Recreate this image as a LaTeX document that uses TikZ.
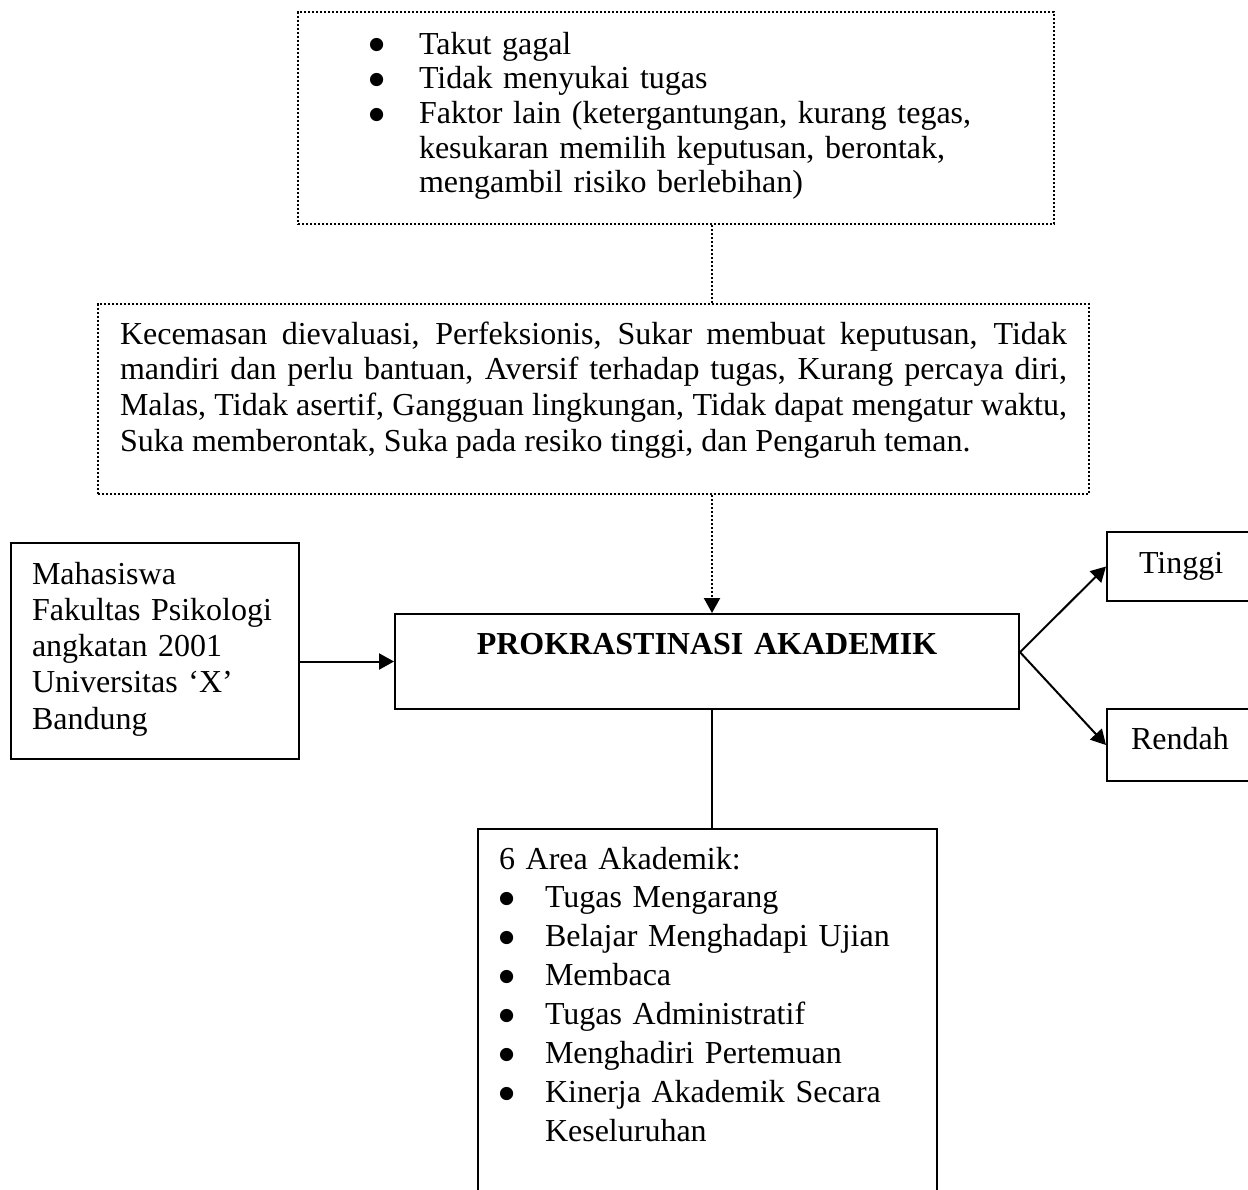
\documentclass[tikz,border=0pt]{standalone}
\usepackage{fontspec}
\setmainfont{Liberation Serif}
\newfontfamily\simbol{DejaVu Sans}
\usetikzlibrary{arrows.meta}

\newcommand{\butir}[1]{\makebox[#1][l]{\raisebox{1.6bp}{\fontsize{6.5bp}{6.5bp}\simbol ●}}}

\tikzset{
  kotak/.style={draw, line width=0.75bp, anchor=north west, inner ysep=0pt, align=left,
    font=\fontsize{12bp}{13.6bp}\selectfont},
  titik/.style={kotak, dash pattern=on 0.75bp off 0.75bp},
  panah/.style={-{Triangle[length=5.6bp,width=6bp]}, line width=0.75bp}
}

\begin{document}
\begin{tikzpicture}[x=0.375bp, y=-0.375bp]
\useasboundingbox (0,0) rectangle (1248,1190);
\clip (0,0) rectangle (1248,1190);

\node[titik, inner xsep=26.625bp, text width=230.25bp, text height=15.75bp, text depth=63.75bp,
  font=\fontsize{12bp}{13bp}\selectfont] (faktor) at (297,11)
  {\butir{18.75bp}Takut gagal\\
   \butir{18.75bp}Tidak menyukai tugas\\
   \butir{18.75bp}Faktor lain (ketergantungan, kurang tegas,\\
   \hspace*{18.75bp}kesukaran memilih keputusan, berontak,\\
   \hspace*{18.75bp}mengambil risiko berlebihan)};
\node[titik, align=justify, inner xsep=8.25bp, text width=355.125bp, text height=15bp, text depth=56.25bp,
  font=\fontsize{12bp}{13.4bp}\selectfont] (ciri) at (97,303)
  {Kecemasan dievaluasi, Perfeksionis, Sukar membuat keputusan, Tidak\linebreak
   mandiri dan perlu bantuan, Aversif terhadap tugas, Kurang percaya diri,\linebreak
   Malas, Tidak asertif, Gangguan lingkungan, Tidak dapat mengatur waktu,\linebreak
   Suka memberontak, Suka pada resiko tinggi, dan Pengaruh teman.};
\node[kotak, inner xsep=7.875bp, text width=92.25bp, text height=15.375bp, text depth=65.625bp] (subjek) at (10,542)
  {Mahasiswa\\Fakultas Psikologi\\angkatan 2001\\Universitas ‘X’\\Bandung};
\node[kotak, align=center, inner xsep=3.75bp, text width=226.5bp, text height=15bp, text depth=20.625bp] (prok) at (394,613)
  {\textbf{PROKRASTINASI AKADEMIK}};
\node[kotak, inner xsep=12bp, text width=34.5bp, text height=15.375bp, text depth=10.5bp] (tinggi) at (1106,531) {Tinggi};
\node[kotak, inner xsep=9bp, text width=40.5bp, text height=15bp, text depth=12bp] (rendah) at (1106,708) {Rendah};
\node[kotak, inner xsep=7.875bp, text width=156.375bp, text height=15bp, text depth=128.25bp,
  font=\fontsize{12bp}{14.6bp}\selectfont] (area) at (477,828)
  {6 Area Akademik:\\
   \butir{17.25bp}Tugas Mengarang\\
   \butir{17.25bp}Belajar Menghadapi Ujian\\
   \butir{17.25bp}Membaca\\
   \butir{17.25bp}Tugas Administratif\\
   \butir{17.25bp}Menghadiri Pertemuan\\
   \butir{17.25bp}Kinerja Akademik Secara\\
   \hspace*{17.25bp}Keseluruhan};

\coordinate (poros) at (712,0);
\coordinate (cabang) at ([yshift=3.5bp]prok.east);
\draw[line width=0.75bp, dash pattern=on 0.75bp off 0.75bp] (faktor.south -| poros) -- (ciri.north -| poros);
\draw[panah, dash pattern=on 0.75bp off 0.75bp] (ciri.south -| poros) -- (prok.north -| poros);
\draw[line width=0.75bp] (prok.south -| poros) -- (area.north -| poros);
\draw[panah] (subjek.east |- prok.west) -- (prok.west);
\draw[panah] (cabang) -- (tinggi.west);
\draw[panah] (cabang) -- (rendah.west);
\end{tikzpicture}
\end{document}
